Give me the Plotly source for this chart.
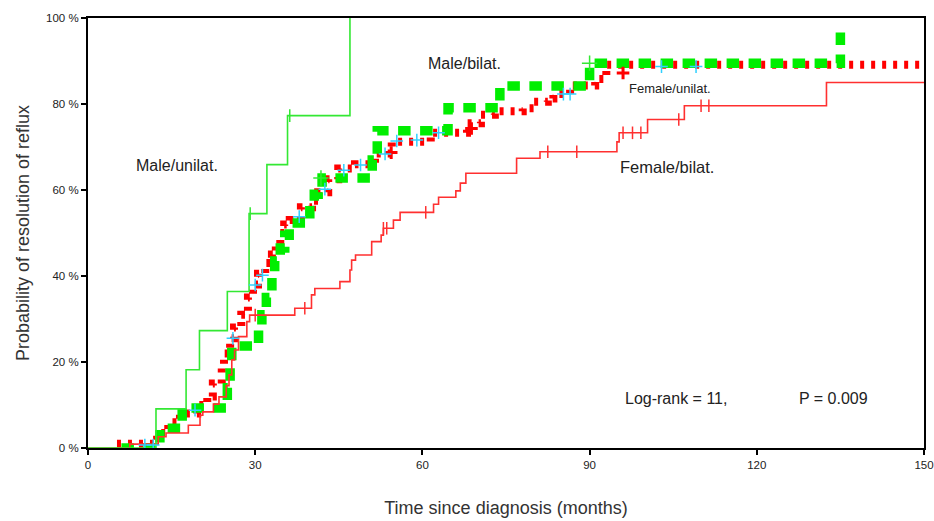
import plotly.graph_objects as go

# Kaplan-Meier estimates: time since diagnosis (months) and cumulative probability of resolution (%)
male_unilat_t = [0, 12.2, 17.6, 20.0, 25.0, 28.9, 32.1, 35.8, 47.0]
male_unilat_p = [0, 9.1, 18.2, 27.3, 36.4, 54.5, 65.9, 77.3, 100]
male_unilat_cens_t = [29.1, 36.2]
male_unilat_cens_p = [54.5, 77.3]

male_bilat_t = [6.0, 12.9, 16.9, 25.0, 25.5, 25.8, 30.6, 31.2, 32.0, 33.0, 33.5, 34.5,
                35.3, 36.1, 39.8, 40.6, 41.3, 42.0, 51.0, 51.9, 64.6, 73.9, 90.0, 135.0]
male_bilat_p = [0, 4.6, 9.3, 14.0, 19.0, 23.7, 27.5, 31.0, 35.0, 40.0, 43.5, 46.5,
                49.5, 52.3, 56.5, 59.0, 60.5, 62.8, 67.0, 73.8, 79.1, 84.2, 89.5, 97.8]
male_bilat_cens_t = [41.8, 90.0]
male_bilat_cens_p = [62.8, 89.5]

female_unilat_t = [5.2, 12.4, 14.4, 16.5, 19.6, 21.4, 22.4, 24.0, 24.4, 25.5, 26.2, 27.5,
                   28.7, 29.6, 30.5, 31.8, 33.0, 33.7, 34.5, 35.2, 36.2, 38.2, 40.2, 41.3,
                   43.1, 44.9, 47.9, 51.5, 54.5, 61.5, 68.0, 70.5, 73.0, 78.0, 80.0, 82.5,
                   83.5, 86.5, 91.0, 93.0, 150.0]
female_unilat_p = [1.0, 3.5, 6.0, 8.0, 10.0, 12.0, 15.0, 18.5, 22.0, 25.5, 28.0, 31.0,
                   35.0, 38.0, 40.5, 43.0, 45.0, 47.5, 50.0, 52.0, 53.0, 56.0, 57.5, 59.5,
                   62.5, 65.0, 66.0, 68.5, 71.2, 73.3, 75.5, 77.5, 78.3, 79.0, 80.5, 81.3,
                   82.3, 84.3, 85.8, 89.1, 89.1]
female_unilat_cens_t = [54.4, 68.8, 96.0]
female_unilat_cens_p = [68.7, 74.3, 87.2]

female_bilat_t = [0, 7.5, 12.6, 14.0, 18.0, 20.1, 20.6, 22.5, 23.5, 24.8, 25.3, 25.8, 26.3,
                  27.0, 28.5, 29.0, 37.1, 40.1, 40.7, 45.2, 47.0, 47.3, 48.0, 50.9, 52.6,
                  53.0, 54.8, 56.0, 62.0, 62.9, 66.0, 66.8, 67.8, 76.9, 81.1, 94.9, 95.3,
                  100.4, 107.0, 132.5, 150.0]
female_bilat_p = [0, 0.9, 2.6, 3.5, 5.3, 7.6, 8.4, 10.2, 11.9, 14.5, 17.0, 20.5, 22.8,
                  25.9, 29.4, 30.9, 32.5, 35.6, 37.1, 38.7, 41.4, 43.7, 44.9, 48.0, 49.5,
                  51.1, 53.0, 54.8, 56.7, 58.3, 59.8, 61.6, 63.9, 67.4, 68.9, 71.2, 73.3,
                  76.4, 79.6, 85.0, 85.0]
female_bilat_cens_t = [30.0, 38.9, 53.0, 53.6, 60.6, 82.5, 87.7, 96.0, 97.7, 99.2, 106.0, 110.0, 111.4]
female_bilat_cens_p = [30.9, 32.5, 51.1, 51.1, 54.8, 68.9, 68.9, 73.3, 73.3, 73.3, 76.4, 79.6, 79.6]

# censored observations marked with cyan crosses on the thick curves
cyan_cens_t = [10.2, 11.7, 19.2, 26.0, 30.0, 31.3, 37.9, 42.5, 45.9, 48.9, 53.3, 55.4,
               59.0, 62.9, 85.3, 86.5, 102.9, 109.1]
cyan_cens_p = [0.7, 0.7, 8.8, 25.5, 37.9, 40.2, 53.8, 60.2, 64.6, 65.8, 68.4, 71.4,
               71.6, 73.3, 82.3, 82.3, 88.7, 88.7]

x_ticks = [0, 30, 60, 90, 120, 150]
y_ticks = [0, 20, 40, 60, 80, 100]
y_tick_text = ["0 %", "20 %", "40 %", "60 %", "80 %", "100 %"]

RED = "#ff0000"
THIN_RED = "#ff3030"
GREEN = "#00ee00"
THIN_GREEN = "#33e833"
CYAN = "#30d0ff"
FONT = "Liberation Sans, Arial, sans-serif"

fig = go.Figure()

# thick step curves
fig.add_trace(go.Scatter(x=female_unilat_t, y=female_unilat_p, mode="lines", line_shape="hv",
                         line=dict(color=RED, width=8, dash="4px,7px"), name="Female/unilat."))
fig.add_trace(go.Scatter(x=male_bilat_t, y=male_bilat_p, mode="lines", line_shape="hv",
                         line=dict(color=GREEN, width=9.5, dash="12.5px,9.5px"), name="Male/bilat."))
# thin step curves
fig.add_trace(go.Scatter(x=female_bilat_t, y=female_bilat_p, mode="lines", line_shape="hv",
                         line=dict(color=THIN_RED, width=1.6), name="Female/bilat."))
fig.add_trace(go.Scatter(x=male_unilat_t, y=male_unilat_p, mode="lines", line_shape="hv",
                         line=dict(color=THIN_GREEN, width=1.6), name="Male/unilat."))

# censor marks
fig.add_trace(go.Scatter(x=female_bilat_cens_t, y=female_bilat_cens_p, mode="markers",
                         marker=dict(symbol="line-ns", size=9, line=dict(color=THIN_RED, width=1.5))))
fig.add_trace(go.Scatter(x=male_unilat_cens_t, y=male_unilat_cens_p, mode="markers",
                         marker=dict(symbol="line-ns", size=9, line=dict(color=THIN_GREEN, width=1.5))))
fig.add_trace(go.Scatter(x=male_bilat_cens_t, y=male_bilat_cens_p, mode="markers",
                         marker=dict(symbol="cross-thin", size=11, line=dict(color=THIN_GREEN, width=1.5))))
fig.add_trace(go.Scatter(x=female_unilat_cens_t, y=female_unilat_cens_p, mode="markers",
                         marker=dict(symbol="cross-thin", size=9, line=dict(color=RED, width=3))))
fig.add_trace(go.Scatter(x=cyan_cens_t, y=cyan_cens_p, mode="markers",
                         marker=dict(symbol="cross-thin", size=9, line=dict(color=CYAN, width=1.5))))

labels = [
    ("Male/unilat.", 16.0, 65.8, 16),
    ("Male/bilat.", 67.6, 89.5, 16),
    ("Female/unilat.", 104.4, 83.7, 13),
    ("Female/bilat.", 103.9, 65.3, 16.5),
]
for txt, x, y, size in labels:
    fig.add_annotation(x=x, y=y, text=txt, showarrow=False, xanchor="center", yanchor="middle",
                       font=dict(family=FONT, size=size, color="#222222"))

fig.add_annotation(x=96.0, y=11.6, text="Log-rank = 11,", showarrow=False, xanchor="left",
                   yanchor="middle", font=dict(family=FONT, size=16, color="#222222"))
fig.add_annotation(x=127.2, y=11.6, text="P = 0.009", showarrow=False, xanchor="left",
                   yanchor="middle", font=dict(family=FONT, size=16, color="#222222"))

fig.update_layout(
    width=934, height=521,
    margin=dict(l=88, r=10, t=18, b=73, autoexpand=False),
    paper_bgcolor="white", plot_bgcolor="white",
    showlegend=False,
    font=dict(family=FONT, color="#222222"),
)
fig.update_xaxes(
    range=[0, 150], tickvals=x_ticks, ticks="outside", ticklen=5, tickwidth=1.5, tickcolor="black",
    showline=True, linecolor="black", linewidth=2, mirror=True, showgrid=False, zeroline=False,
    automargin=False,
    tickfont=dict(family=FONT, size=11.5, color="#222222"),
    title=dict(text="Time since diagnosis (months)", font=dict(family=FONT, size=18, color="#333333"),
               standoff=32),
)
fig.update_yaxes(
    range=[0, 100], tickvals=y_ticks, ticktext=y_tick_text, ticks="outside", ticklen=5, tickwidth=1.5,
    tickcolor="black", showline=True, linecolor="black", linewidth=2, mirror=True, showgrid=False,
    zeroline=False, automargin=False, tickfont=dict(family=FONT, size=11.5, color="#222222"),
    title=dict(text="Probability of resolution of reflux",
               font=dict(family=FONT, size=18, color="#333333"), standoff=12),
)

fig.write_html("out.html")
